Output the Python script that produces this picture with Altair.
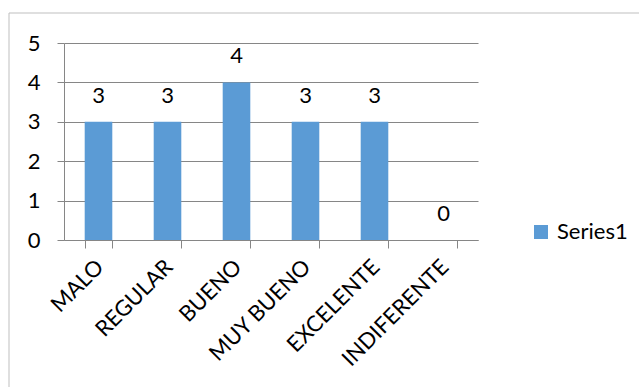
import altair as alt
import pandas as pd

categories = ["MALO", "REGULAR", "BUENO", "MUY BUENO", "EXCELENTE", "INDIFERENTE"]
values = [3, 3, 4, 3, 3, 0]
series = ["Series1"] * len(categories)

df = pd.DataFrame({"cat": categories, "val": values, "series": series})

FONT = "Lato"
BLUE = "#5B9BD5"
FS = 22

base = alt.Chart(df)

x_axis = alt.Axis(labelAngle=-45, labelFontSize=FS, labelFont=FONT,
                  labelColor="#000000", tickBand="extent", tickSize=8,
                  domainColor="#868686", tickColor="#868686",
                  labelPadding=8, labelOffset=-6, labelAlign="right",
                  labelBaseline="top")
y_axis = alt.Axis(values=[0, 1, 2, 3, 4, 5], format="d", labelFontSize=FS,
                  labelFont=FONT, labelColor="#000000", tickSize=7,
                  tickColor="#868686", domainColor="#868686",
                  gridColor="#868686", labelPadding=17)

x = alt.X("cat:N", sort=categories, title=None,
          scale=alt.Scale(paddingInner=0.6, paddingOuter=0.3), axis=x_axis)
y = alt.Y("val:Q", title=None, scale=alt.Scale(domain=[0, 5], nice=False), axis=y_axis)

bars = base.mark_bar(color=BLUE).encode(
    x=x,
    y=y,
    fill=alt.Fill("series:N", scale=alt.Scale(range=[BLUE]),
                  legend=alt.Legend(title=None, symbolType="square", symbolSize=196,
                                    labelFontSize=FS, labelFont=FONT,
                                    labelColor="#000000", orient="none",
                                    legendX=466, legendY=178, symbolStrokeWidth=0,
                                    labelOffset=5)),
)

labels = base.mark_text(baseline="alphabetic", dy=-19, fontSize=FS, font=FONT,
                        color="#000000").encode(
    x=x,
    y=y,
    text=alt.Text("val:Q"),
)

border = alt.Chart(pd.DataFrame({"a": [0]})).mark_rect(
    fill=None, stroke="#BFBFBF", strokeWidth=1, clip=False
).encode(x=alt.value(-55), x2=alt.value(700), y=alt.value(-30), y2=alt.value(400))

chart = alt.layer(border, bars, labels).properties(
    width=414, height=197,
    autosize=alt.AutoSizeParams(type="none"),
    padding={"left": 64, "top": 43, "right": 161, "bottom": 147},
).configure_view(stroke=None).configure_axis(gridWidth=1)

chart.save("out.html", embed_options={"renderer": "svg", "actions": False})
